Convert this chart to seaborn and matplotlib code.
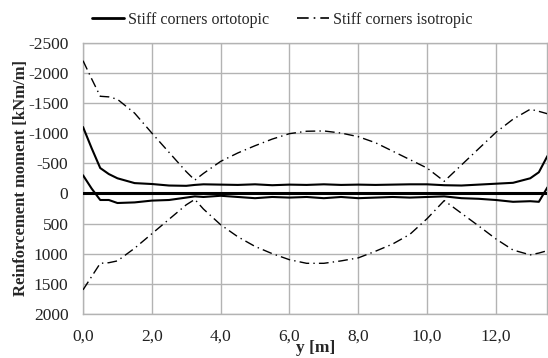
import matplotlib
matplotlib.use("Agg")
import matplotlib.pyplot as plt
from matplotlib.lines import Line2D
import seaborn as sns
import pandas as pd

# ---- data ----
y_pos = [0, 0.25, 0.5, 0.75, 1.0, 1.5, 2.0, 2.5, 3.0, 3.25, 3.5, 4.0, 4.5, 5.0,
         5.5, 6.0, 6.5, 7.0, 7.5, 8.0, 8.5, 9.0, 9.5, 10.0, 10.5, 11.0, 11.5,
         12.0, 12.5, 13.0, 13.25, 13.5]

orto_upper = [-1100, -750, -420, -320, -250, -170, -155, -130, -125, -140, -150,
              -145, -140, -150, -135, -145, -140, -150, -140, -145, -140, -145,
              -150, -150, -135, -130, -145, -160, -175, -250, -350, -620]
orto_lower = [-300, -80, 110, 110, 160, 150, 120, 110, 70, 50, 60, 40, 60, 80,
              60, 70, 60, 80, 60, 80, 70, 60, 70, 60, 50, 80, 90, 110, 140, 130,
              140, -100]
iso_upper = [-2200, -1900, -1610, -1600, -1560, -1330, -1000, -680, -360, -220,
             -330, -530, -670, -790, -900, -990, -1030, -1035, -1000, -940, -840,
             -700, -560, -420, -200, -470, -740, -1010, -1230, -1395, -1360, -1320]
iso_lower = [1600, 1380, 1160, 1150, 1120, 910, 670, 430, 190, 100, 260, 520,
             720, 880, 1000, 1100, 1160, 1160, 1120, 1070, 960, 840, 680, 420, 120,
             330, 540, 755, 940, 1020, 990, 950]

y_ticks = [-2500, -2000, -1500, -1000, -500, 0, 500, 1000, 1500, 2000]
x_ticks = [0, 2, 4, 6, 8, 10, 12]
x_tick_labels = ["0,0", "2,0", "4,0", "6,0", "8,0", "10,0", "12,0"]
legend_labels = ["Stiff corners ortotopic", "Stiff corners isotropic"]

sns.set_theme(style="white")
plt.rcParams['font.family'] = ['Liberation Serif', 'DejaVu Serif']

fig = plt.figure(figsize=(5.48, 3.58), dpi=100)
ax = fig.add_axes([0.1515, 0.123, 0.8475, 0.758])

dash_dot = (0, (7, 3, 1, 3))
df = pd.DataFrame({"y": y_pos, "ou": orto_upper, "ol": orto_lower,
                   "iu": iso_upper, "il": iso_lower})

ax.axhline(0, color="black", lw=2.2, zorder=3)
for col in ["ou", "ol"]:
    sns.lineplot(data=df, x="y", y=col, ax=ax, color="black", lw=1.5,
                 sort=False, estimator=None, zorder=4)
for col in ["iu", "il"]:
    sns.lineplot(data=df, x="y", y=col, ax=ax, color="black", lw=1.0,
                 linestyle=dash_dot, sort=False, estimator=None, zorder=4)

ax.set_xlim(0, 13.5)
ax.set_ylim(2000, -2500)
ax.set_yticks(y_ticks)
ax.set_yticklabels([str(v) for v in y_ticks])
ax.set_xticks(x_ticks)
ax.set_xticklabels(x_tick_labels)
ax.tick_params(axis="both", labelsize=12.5, length=0, pad=10.5, colors="#222222")
ax.grid(True, color="#b3b3b3", lw=1.0)
ax.set_axisbelow(True)
for s in ax.spines.values():
    s.set_color("#b3b3b3")
    s.set_linewidth(1.0)

ax.set_xlabel("y [m]", fontsize=12.5, fontweight="bold", labelpad=-3)
ax.set_ylabel("Reinforcement moment [kNm/m]", fontsize=12, fontweight="bold",
              labelpad=-1)

handles = [Line2D([], [], color="black", lw=2.0),
           Line2D([], [], color="black", lw=1.2, linestyle=dash_dot)]
fig.legend(handles, legend_labels, loc="center", bbox_to_anchor=(0.515, 0.944),
           ncol=2, frameon=False, fontsize=11.5, handlelength=2.0,
           columnspacing=1.7, handletextpad=0.3)

fig.savefig("out.png", dpi=100)
